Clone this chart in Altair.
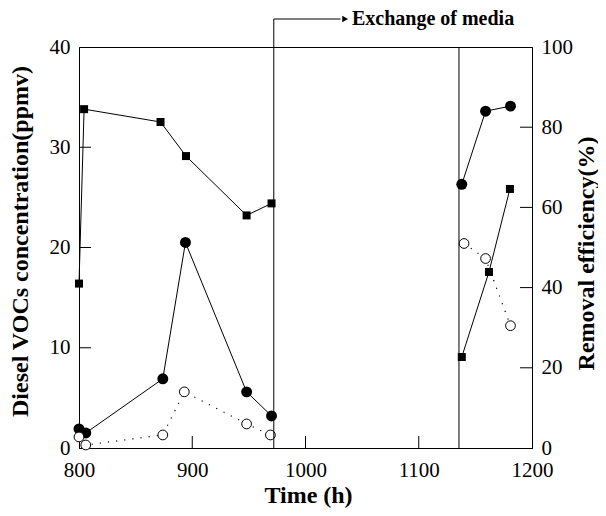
import altair as alt
import pandas as pd

# ---------------- data ----------------
in_time = [800, 806, 874, 894, 948, 970, 1138, 1159, 1181]
in_conc = [1.9, 1.5, 6.9, 20.5, 5.6, 3.2, 26.3, 33.6, 34.1]
in_seg = [1, 1, 1, 1, 1, 1, 2, 2, 2]

out_time = [800, 806, 874, 893, 948, 969, 1140, 1159, 1181]
out_conc = [1.1, 0.3, 1.3, 5.6, 2.4, 1.3, 20.4, 18.9, 12.2]
out_seg = [1, 1, 1, 1, 1, 1, 2, 2, 2]

eff_time = [800, 804.5, 872, 894.5, 948, 970, 1138, 1162, 1180.5]
eff_val = [41, 84.5, 81.3, 72.8, 58, 61, 22.7, 43.9, 64.6]
eff_seg = [1, 1, 1, 1, 1, 1, 2, 2, 2]

exchange_times = [972, 1135.5]
arrow_line = [972, 1031]
arrow_head = [1035]
label_time = [1041]

x_ticks = [800, 900, 1000, 1100, 1200]
left_ticks = [0, 10, 20, 30, 40]
right_ticks = [0, 20, 40, 60, 80, 100]

SERIF = "Liberation Serif"
W, H = 453, 401

df_in = pd.DataFrame({"t": in_time, "v": in_conc, "seg": in_seg})
df_out = pd.DataFrame({"t": out_time, "v": out_conc, "seg": out_seg})
df_eff = pd.DataFrame({"t": eff_time, "v": eff_val, "seg": eff_seg})

x_axis = alt.Axis(values=x_ticks, format="d", tickSize=0, grid=False, labelFont=SERIF,
                  labelFontSize=21, labelPadding=11, labelFlush=False,
                  labelColor="black", domainColor="black",
                  title="Time (h)", titleFont=SERIF, titleFontSize=24,
                  titleFontWeight="bold", titleColor="black",
                  titleX=229, titleY=47, titleAlign="center",
                  titleBaseline="middle", titleAngle=0)
x_scale = alt.Scale(domain=[800, 1200], nice=False, zero=False)


def X(field="t"):
    return alt.X(f"{field}:Q", scale=x_scale, axis=x_axis)


left_axis = alt.Axis(values=left_ticks, format="d", tickSize=0, grid=False, labelFont=SERIF,
                     labelFontSize=21, labelPadding=9, labelColor="black",
                     domainColor="black", orient="left",
                     title="Diesel VOCs concentration(ppmv)", titleFont=SERIF,
                     titleFontSize=24, titleFontWeight="bold", titleColor="black",
                     titleX=-59, titleY=194, titleAngle=270, titleAlign="center",
                     titleBaseline="middle")
left_scale = alt.Scale(domain=[0, 40], nice=False, zero=True)

right_axis = alt.Axis(values=right_ticks, format="d", tickSize=0, grid=False, labelFont=SERIF,
                      labelFontSize=21, labelPadding=9, labelColor="black",
                      domainColor="black", orient="right",
                      title="Removal efficiency(%)", titleFont=SERIF,
                      titleFontSize=24, titleFontWeight="bold", titleColor="black",
                      titleX=54, titleY=206, titleAngle=270, titleAlign="center",
                      titleBaseline="middle")
right_scale = alt.Scale(domain=[0, 100], nice=False, zero=True)


def YL(field="v"):
    return alt.Y(f"{field}:Q", scale=left_scale, axis=left_axis)


def YR(field="v"):
    return alt.Y(f"{field}:Q", scale=right_scale, axis=right_axis)


# ---------- left-axis group ----------
in_line = alt.Chart(df_in).mark_line(color="black", strokeWidth=1).encode(
    x=X(), y=YL(), detail="seg:N")
in_pts = alt.Chart(df_in).mark_circle(color="black", size=120, opacity=1).encode(
    x=X(), y=YL())
out_line = alt.Chart(df_out).mark_line(color="black", strokeWidth=1.2,
                                       strokeDash=[1.2, 7]).encode(
    x=X(), y=YL(), detail="seg:N")
out_pts = alt.Chart(df_out).mark_point(shape="circle", filled=True, fill="white",
                                       stroke="black", strokeWidth=1, size=95,
                                       opacity=1).encode(x=X(), y=YL())
lt = pd.DataFrame({"v": left_ticks[1:-1]})
left_tick_marks = alt.Chart(lt).mark_rule(color="black", strokeWidth=1).encode(
    y=YL(), x=alt.value(0), x2=alt.value(12))

left_group = alt.layer(in_line, out_line, in_pts, out_pts, left_tick_marks)

# ---------- right-axis group ----------
eff_line = alt.Chart(df_eff).mark_line(color="black", strokeWidth=1).encode(
    x=X(), y=YR(), detail="seg:N")
eff_pts = alt.Chart(df_eff).mark_square(color="black", size=64, opacity=1).encode(
    x=X(), y=YR())
rt = pd.DataFrame({"v": right_ticks[1:-1]})
right_tick_marks = alt.Chart(rt).mark_rule(color="black", strokeWidth=1).encode(
    y=YR(), x=alt.value(W - 12), x2=alt.value(W))

right_group = alt.layer(eff_line, eff_pts, right_tick_marks)

# ---------- x ticks, exchange lines, annotation ----------
xt = pd.DataFrame({"t": x_ticks[1:-1]})
x_tick_marks = alt.Chart(xt).mark_rule(color="black", strokeWidth=1).encode(
    x=X(), y=alt.value(H - 12), y2=alt.value(H))

ex1 = alt.Chart(pd.DataFrame({"t": exchange_times[:1]})).mark_rule(
    color="black", strokeWidth=1, clip=False).encode(
    x=X(), y=alt.value(-28), y2=alt.value(H))
ex2 = alt.Chart(pd.DataFrame({"t": exchange_times[1:]})).mark_rule(
    color="black", strokeWidth=1).encode(
    x=X(), y=alt.value(0), y2=alt.value(H))
arrow = alt.Chart(pd.DataFrame({"t": arrow_line[:1], "t2": arrow_line[1:]})).mark_rule(
    color="black", strokeWidth=1, clip=False).encode(
    x=X(), x2="t2:Q", y=alt.value(-28))
head = alt.Chart(pd.DataFrame({"t": arrow_head})).mark_point(
    shape="triangle-right", filled=True, color="black", size=45, opacity=1,
    clip=False).encode(x=X(), y=alt.value(-28))
label = alt.Chart(pd.DataFrame({"t": label_time, "txt": ["Exchange of media"]})).mark_text(
    align="left", baseline="middle", font=SERIF, fontSize=20, fontWeight="bold",
    color="black", clip=False).encode(x=X(), y=alt.value(-28), text="txt:N")

annot = alt.layer(x_tick_marks, ex1, ex2, arrow, head, label)

chart = alt.layer(left_group, right_group, annot).resolve_scale(
    y="independent"
).properties(
    width=W, height=H,
    autosize=alt.AutoSizeParams(type="none"),
    padding={"left": 71, "top": 39, "right": 66, "bottom": 60},
    background="white",
).configure_view(stroke="black", strokeWidth=1)

chart.save("out.html", embed_options={"renderer": "svg", "actions": False})
